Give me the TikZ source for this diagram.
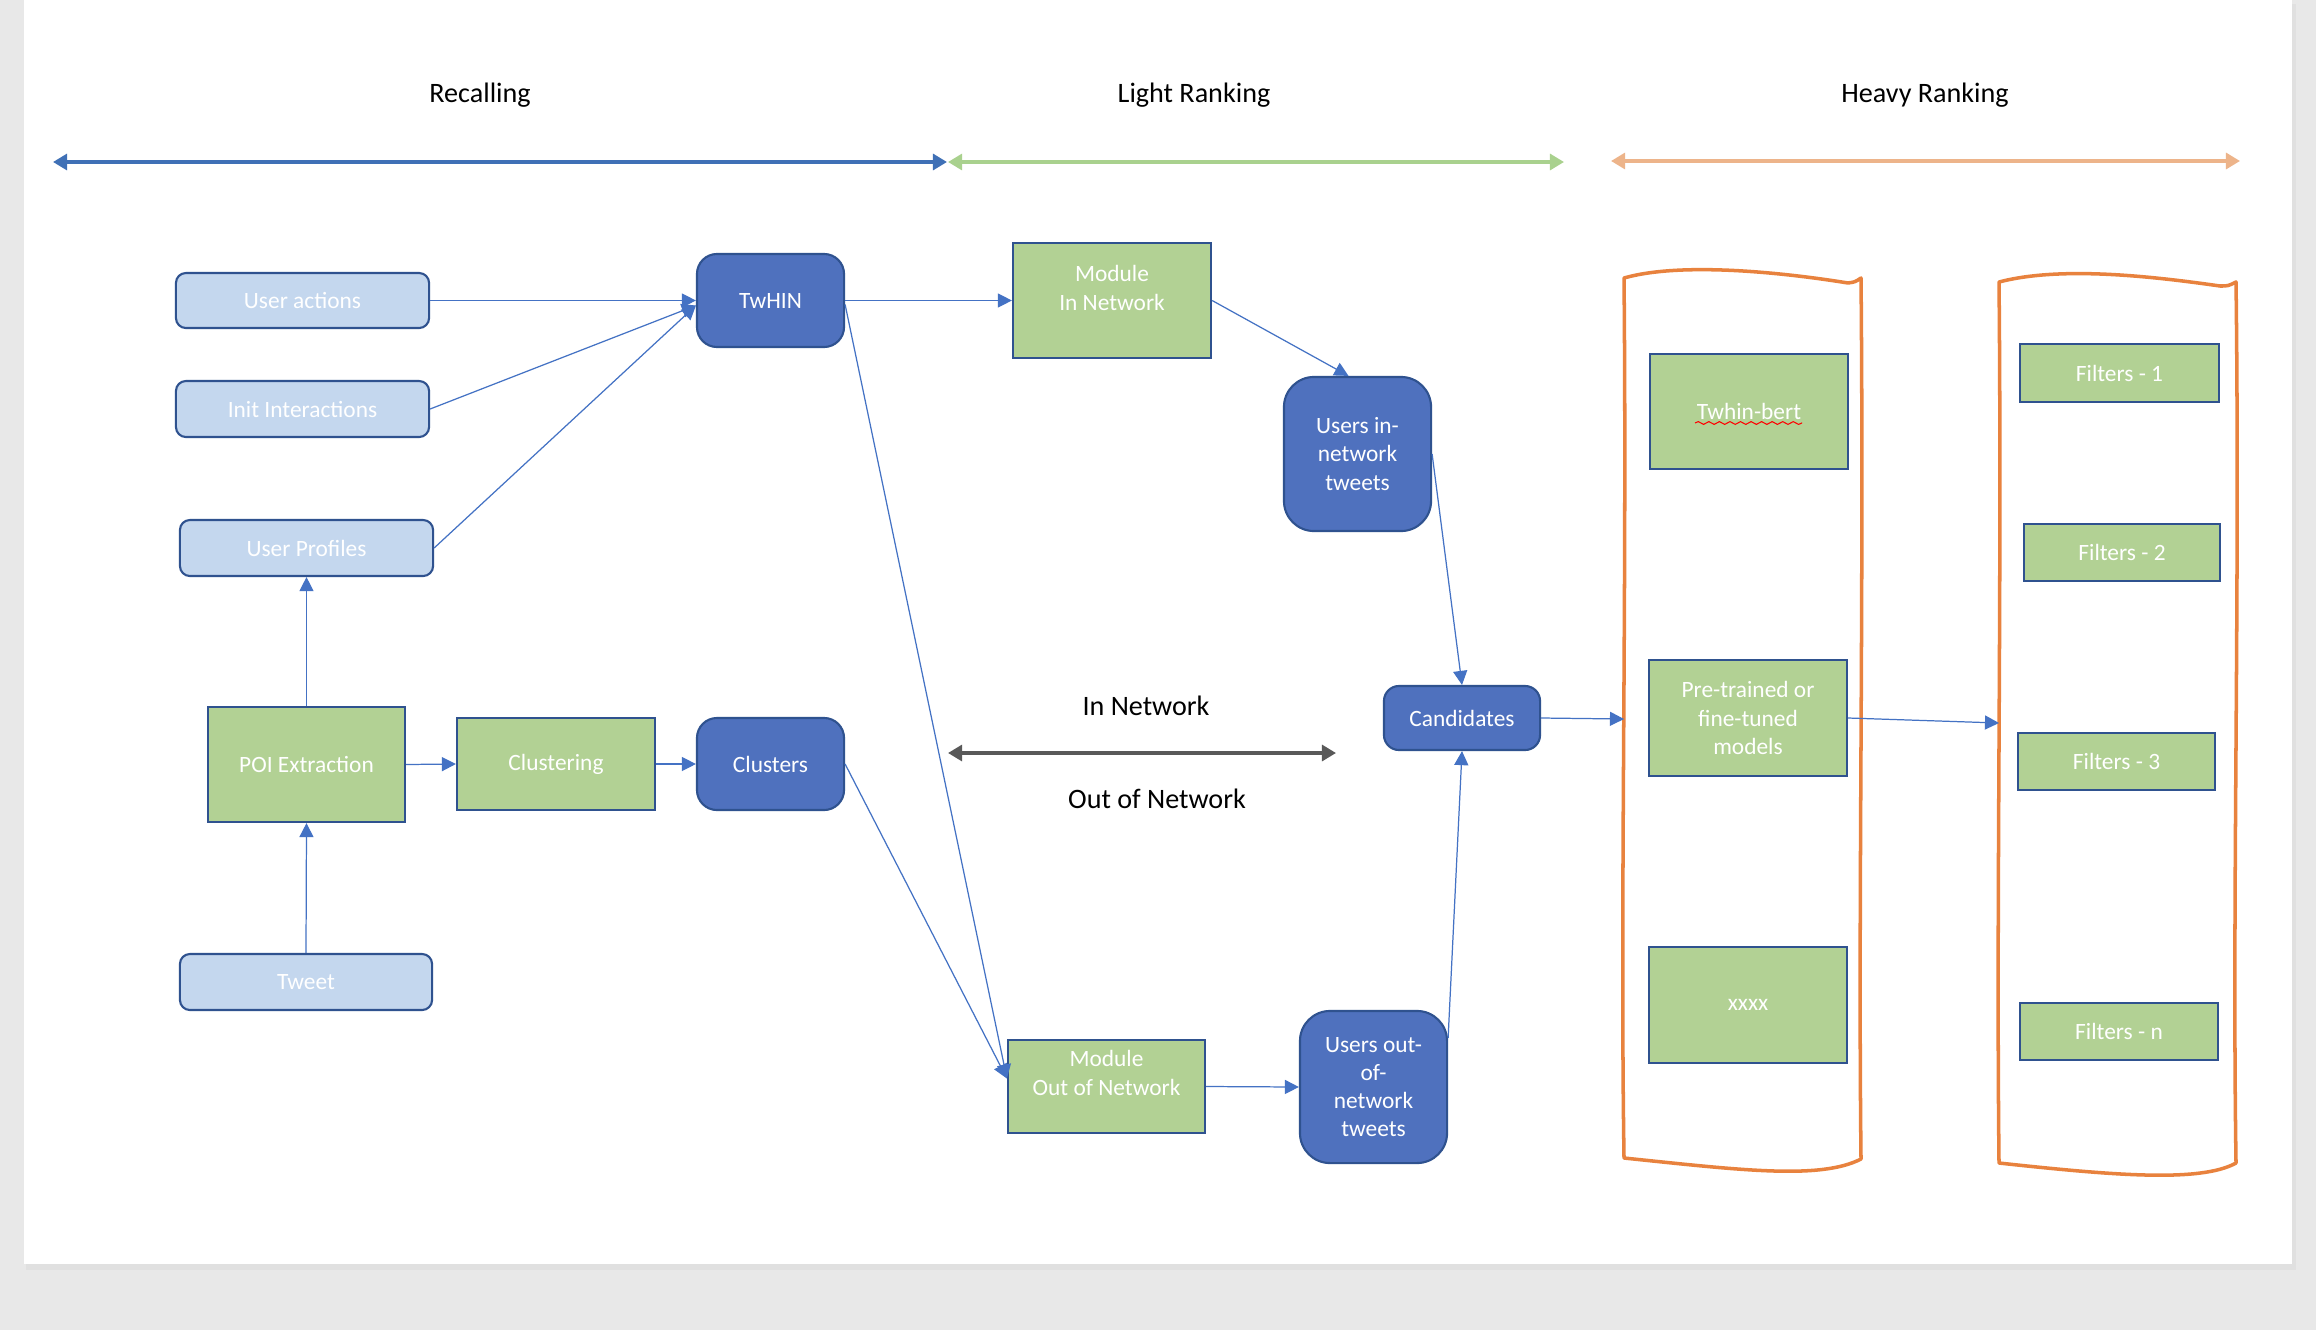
\documentclass[tikz,border=0pt]{standalone}
\usepackage{fontspec}
\setmainfont{Carlito}
\usetikzlibrary{arrows.meta,calc,decorations.pathmorphing}
\definecolor{lblue}{HTML}{C4D7EE}
\definecolor{dblue}{HTML}{2F528F}
\definecolor{mblue}{HTML}{4F71BE}
\definecolor{lgreen}{HTML}{B2D194}
\definecolor{connc}{HTML}{4472C4}
\definecolor{hblue}{HTML}{3F70B6}
\definecolor{hgreen}{HTML}{A9D18E}
\definecolor{horange}{HTML}{EDB48A}
\definecolor{corange}{HTML}{E8823E}
\definecolor{pagegray}{HTML}{E8E8E8}
\definecolor{darkgr}{HTML}{595959}
\begin{document}
\begin{tikzpicture}[x=0.01cm,y=-0.01cm,
 boxtxt/.style={font=\fontsize{6.65}{8}\selectfont, text=white, align=center, inner sep=0pt},
 lbox/.style={boxtxt, draw=dblue, fill=lblue, line width=0.6pt, rounded corners=0.1cm},
 gbox/.style={boxtxt, draw=dblue, fill=lgreen, line width=0.6pt},
 bbox/.style={boxtxt, draw=dblue, fill=mblue, line width=0.6pt, rounded corners=0.2cm},
 conn/.style={draw=connc, line width=0.35pt, -{Triangle[length=4pt,width=4pt]}},
 hdr/.style={font=\fontsize{8}{9.6}\selectfont, text=black, inner sep=0pt},
 harrow/.style={line width=1.3pt, {Triangle[length=4pt,width=4.5pt]}-{Triangle[length=4pt,width=4.5pt]}},
 cont/.style={draw=corange, line width=1pt, line join=round}
]
\useasboundingbox (0,0) rectangle (2316,1330);
\fill[pagegray] (0,0) rectangle (2316,1330);
\fill[black!12] (26,4) rectangle (2296,1270);
\fill[white] (24,0) rectangle (2292,1264);

% headers
\node[hdr] (hrec) at (480,95) {Recalling};
\node[hdr] (hlight) at (1194,95) {Light Ranking};
\node[hdr] (hheavy) at (1925,95) {Heavy Ranking};
\coordinate (ba) at (53,162); \coordinate (bb) at (947,162);
\coordinate (ga) at (948,162); \coordinate (gb) at (1564,162);
\coordinate (oa) at (1611,161); \coordinate (ob) at (2240,161);
\draw[harrow, draw=hblue] (ba) -- (bb);
\draw[harrow, draw=hgreen] (ga) -- (gb);
\draw[harrow, draw=horange] (oa) -- (ob);

% containers
\draw[cont] (1624,278) .. controls (1680,262) and (1780,272) .. (1848,283)
  .. controls (1855,282) .. (1861,278)
  .. controls (1864,600) and (1858,900) .. (1861,1159)
  .. controls (1820,1180) and (1740,1170) .. (1624,1158)
  .. controls (1620,900) and (1627,600) .. cycle;
\draw[cont] (1999,282) .. controls (2060,266) and (2150,276) .. (2220,286)
  .. controls (2228,286) .. (2236,282)
  .. controls (2240,600) and (2232,900) .. (2236,1163)
  .. controls (2200,1183) and (2110,1175) .. (1999,1163)
  .. controls (1996,900) and (2002,600) .. cycle;
\coordinate (c1) at (1624,719);
\coordinate (c2) at (1999,723);

% recalling nodes
\node[lbox, minimum width=2.53cm, minimum height=0.55cm] (ua) at (302.5,300.5) {User actions};
\node[lbox, minimum width=2.53cm, minimum height=0.56cm] (ii) at (302.5,409) {Init Interactions};
\node[lbox, minimum width=2.53cm, minimum height=0.56cm] (up) at (306.5,548) {User Profiles};
\node[bbox, minimum width=1.47cm, minimum height=0.93cm] (tw) at (770.5,300.5) {TwHIN};
\node[gbox, minimum width=1.97cm, minimum height=1.15cm] (poi) at (306.5,764.5) {POI Extraction};
\node[gbox, minimum width=1.98cm, minimum height=0.92cm] (clu) at (556,764) {Clustering};
\node[bbox, minimum width=1.47cm, minimum height=0.92cm] (cls) at (770.5,764) {Clusters};
\node[lbox, minimum width=2.52cm, minimum height=0.56cm] (tweet) at (306,982) {Tweet};

% light ranking
\node[gbox, minimum width=1.98cm, minimum height=1.15cm] (min) at (1112,300.5) {};
\node[boxtxt] (mint) at (1112,288) {Module\\In Network};
\node[bbox, rounded corners=0.3cm, minimum width=1.47cm, minimum height=1.54cm] (uin) at (1357.5,454) {Users in-\\network\\tweets};
\node[bbox, rounded corners=0.15cm, minimum width=1.56cm, minimum height=0.64cm] (cand) at (1462,718) {Candidates};
\node[gbox, minimum width=1.97cm, minimum height=0.93cm] (mout) at (1106.5,1086.5) {};
\node[boxtxt] (moutt) at (1106.5,1073) {Module\\Out of Network};
\node[bbox, rounded corners=0.3cm, minimum width=1.47cm, minimum height=1.52cm] (uout) at (1373.5,1087) {Users out-\\of-\\network\\tweets};
\node[hdr] (innet) at (1146,706) {In Network};
\node[hdr] (outnet) at (1157,799) {Out of Network};
\coordinate (na) at (948,753); \coordinate (nb) at (1336,753);
\draw[harrow, draw=darkgr] (na) -- (nb);

% heavy ranking
\node[gbox, minimum width=1.98cm, minimum height=1.15cm] (tb) at (1749,411.5) {Twhin-bert};
\draw[red, line width=0.3pt, decorate, decoration={snake, amplitude=0.4pt, segment length=3pt}] (1695,423) -- (1802,423);
\node[gbox, minimum width=1.98cm, minimum height=1.16cm] (pt) at (1748,718) {Pre-trained or\\fine-tuned\\models};
\node[gbox, minimum width=1.98cm, minimum height=1.16cm] (xx) at (1748,1005) {xxxx};
\node[gbox, minimum width=1.99cm, minimum height=0.58cm] (f1) at (2119.5,373) {Filters - 1};
\node[gbox, minimum width=1.96cm, minimum height=0.57cm] (f2) at (2122,552.5) {Filters - 2};
\node[gbox, minimum width=1.97cm, minimum height=0.57cm] (f3) at (2116.5,761.5) {Filters - 3};
\node[gbox, minimum width=1.98cm, minimum height=0.57cm] (fn) at (2119,1031.5) {Filters - n};

% connectors
\draw[conn] (ua.east) -- (tw.west);
\draw[conn] (ii.east) -- ($(tw.west)+(0,5)$);
\draw[conn] (up.east) -- ($(tw.west)+(0,5)$);
\draw[conn] (poi.north) -- (up.south);
\draw[conn] (tweet.north) -- (poi.south);
\draw[conn] (poi.east) -- (clu.west);
\draw[conn] (clu.east) -- (cls.west);
\draw[conn] (tw.east) -- (min.west);
\draw[conn] ($(tw.east)+(0,4)$) -- ($(mout.west)+(0,-8)$);
\draw[conn] (cls.east) -- ($(mout.west)+(0,-8)$);
\draw[conn] (min.east) -- ($(uin.north)+(-9,0)$);
\draw[conn] (uin.east) -- (cand.north);
\draw[conn] (mout.east) -- (uout.west);
\draw[conn] ($(uout.east)+(0,-49)$) -- (cand.south);
\draw[conn] (cand.east) -- (c1);
\draw[conn] (pt.east) -- (c2);
\end{tikzpicture}
\end{document}
